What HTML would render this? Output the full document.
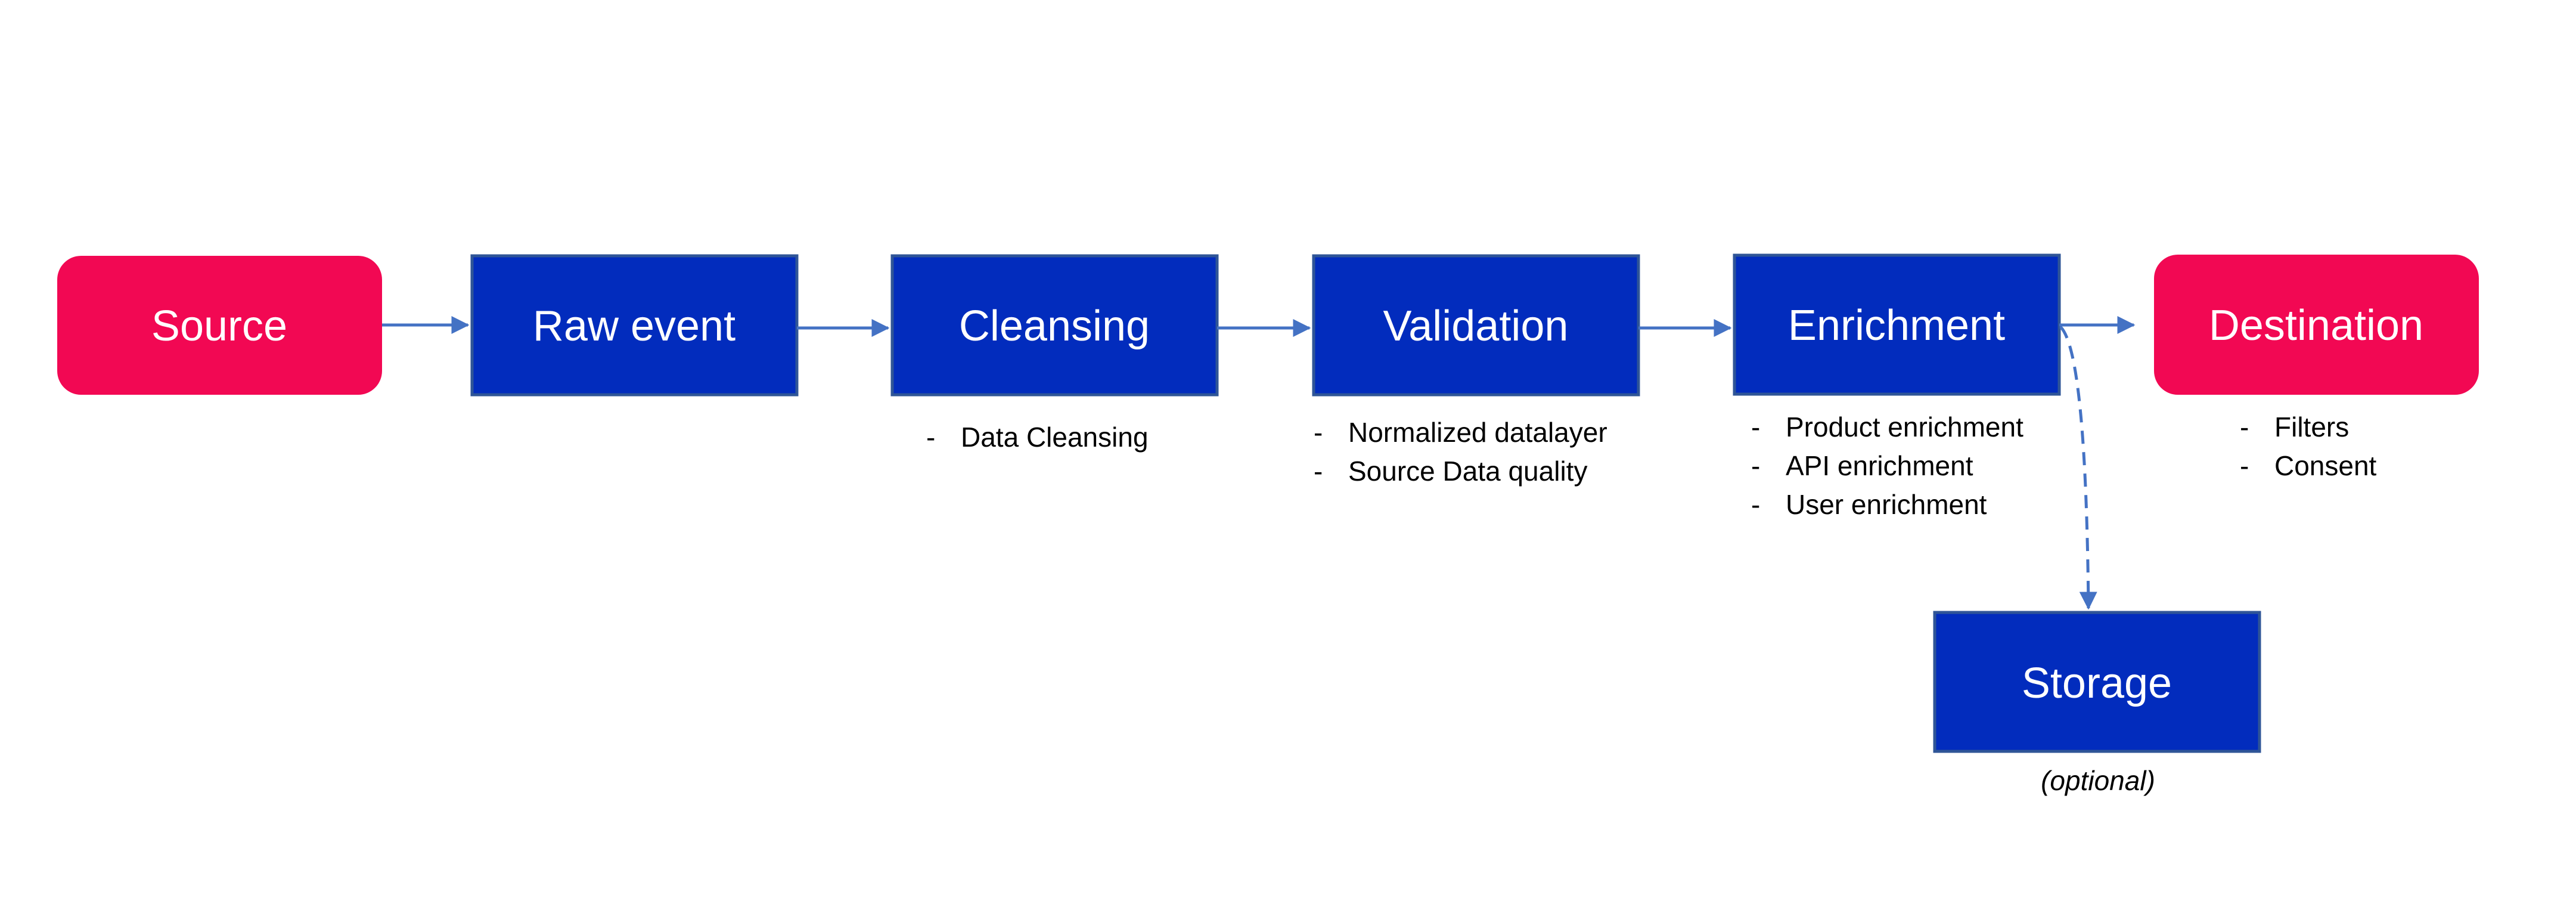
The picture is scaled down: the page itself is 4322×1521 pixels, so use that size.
<!DOCTYPE html>
<html><head><meta charset="utf-8"><style>
html,body{margin:0;padding:0;background:#fff;}
svg{display:block;}
text{font-family:"Liberation Sans",sans-serif;}
</style></head><body>
<svg width="4322" height="1521" viewBox="0 0 4322 1521" xmlns="http://www.w3.org/2000/svg">
<defs>
<marker id="ah" markerWidth="6" markerHeight="6" refX="5.5" refY="3" orient="auto" markerUnits="strokeWidth">
<path d="M0,0 L6,3 L0,6 z" fill="#4472C4"/>
</marker>
</defs>
<rect width="4322" height="1521" fill="#fff"/>
<!-- boxes -->
<rect x="96" y="429" width="545" height="233" rx="40" fill="#F20853"/>
<rect x="3614" y="427" width="545" height="235" rx="40" fill="#F20853"/>
<g fill="#022CBD" stroke="#2F5597" stroke-width="5">
<rect x="792" y="429" width="545" height="233"/>
<rect x="1497" y="429" width="545" height="233"/>
<rect x="2204" y="429" width="545" height="233"/>
<rect x="2910" y="428" width="545" height="233"/>
<rect x="3246" y="1027" width="545" height="233"/>
</g>
<g fill="#fff" font-size="72" text-anchor="middle">
<text x="368" y="571">Source</text>
<text x="1064" y="571">Raw event</text>
<text x="1769" y="571">Cleansing</text>
<text x="2476" y="571">Validation</text>
<text x="3182" y="570">Enrichment</text>
<text x="3886" y="570">Destination</text>
<text x="3518" y="1170">Storage</text>
</g>
<!-- arrows -->
<g stroke="#4472C4" stroke-width="5" fill="none">
<line x1="641" y1="545" x2="785" y2="545" marker-end="url(#ah)"/>
<line x1="1337" y1="550" x2="1490" y2="550" marker-end="url(#ah)"/>
<line x1="2042" y1="550" x2="2197" y2="550" marker-end="url(#ah)"/>
<line x1="2749" y1="550" x2="2903" y2="550" marker-end="url(#ah)"/>
<line x1="3455" y1="545" x2="3580" y2="545" marker-end="url(#ah)"/>
<path d="M3457,548 Q3500,590 3504,1020" stroke-dasharray="22,14" marker-end="url(#ah)"/>
</g>
<!-- bullets -->
<g fill="#000" font-size="46">
<text x="1554" y="749">-</text><text x="1612" y="749">Data Cleansing</text>
<text x="2204" y="741">-</text><text x="2262" y="741">Normalized datalayer</text>
<text x="2204" y="806">-</text><text x="2262" y="806">Source Data quality</text>
<text x="2938" y="732">-</text><text x="2996" y="732">Product enrichment</text>
<text x="2938" y="797">-</text><text x="2996" y="797">API enrichment</text>
<text x="2938" y="862">-</text><text x="2996" y="862">User enrichment</text>
<text x="3758" y="732">-</text><text x="3816" y="732">Filters</text>
<text x="3758" y="797">-</text><text x="3816" y="797">Consent</text>
<text x="3520" y="1325" font-style="italic" text-anchor="middle">(optional)</text>
</g>
</svg>
</body></html>
